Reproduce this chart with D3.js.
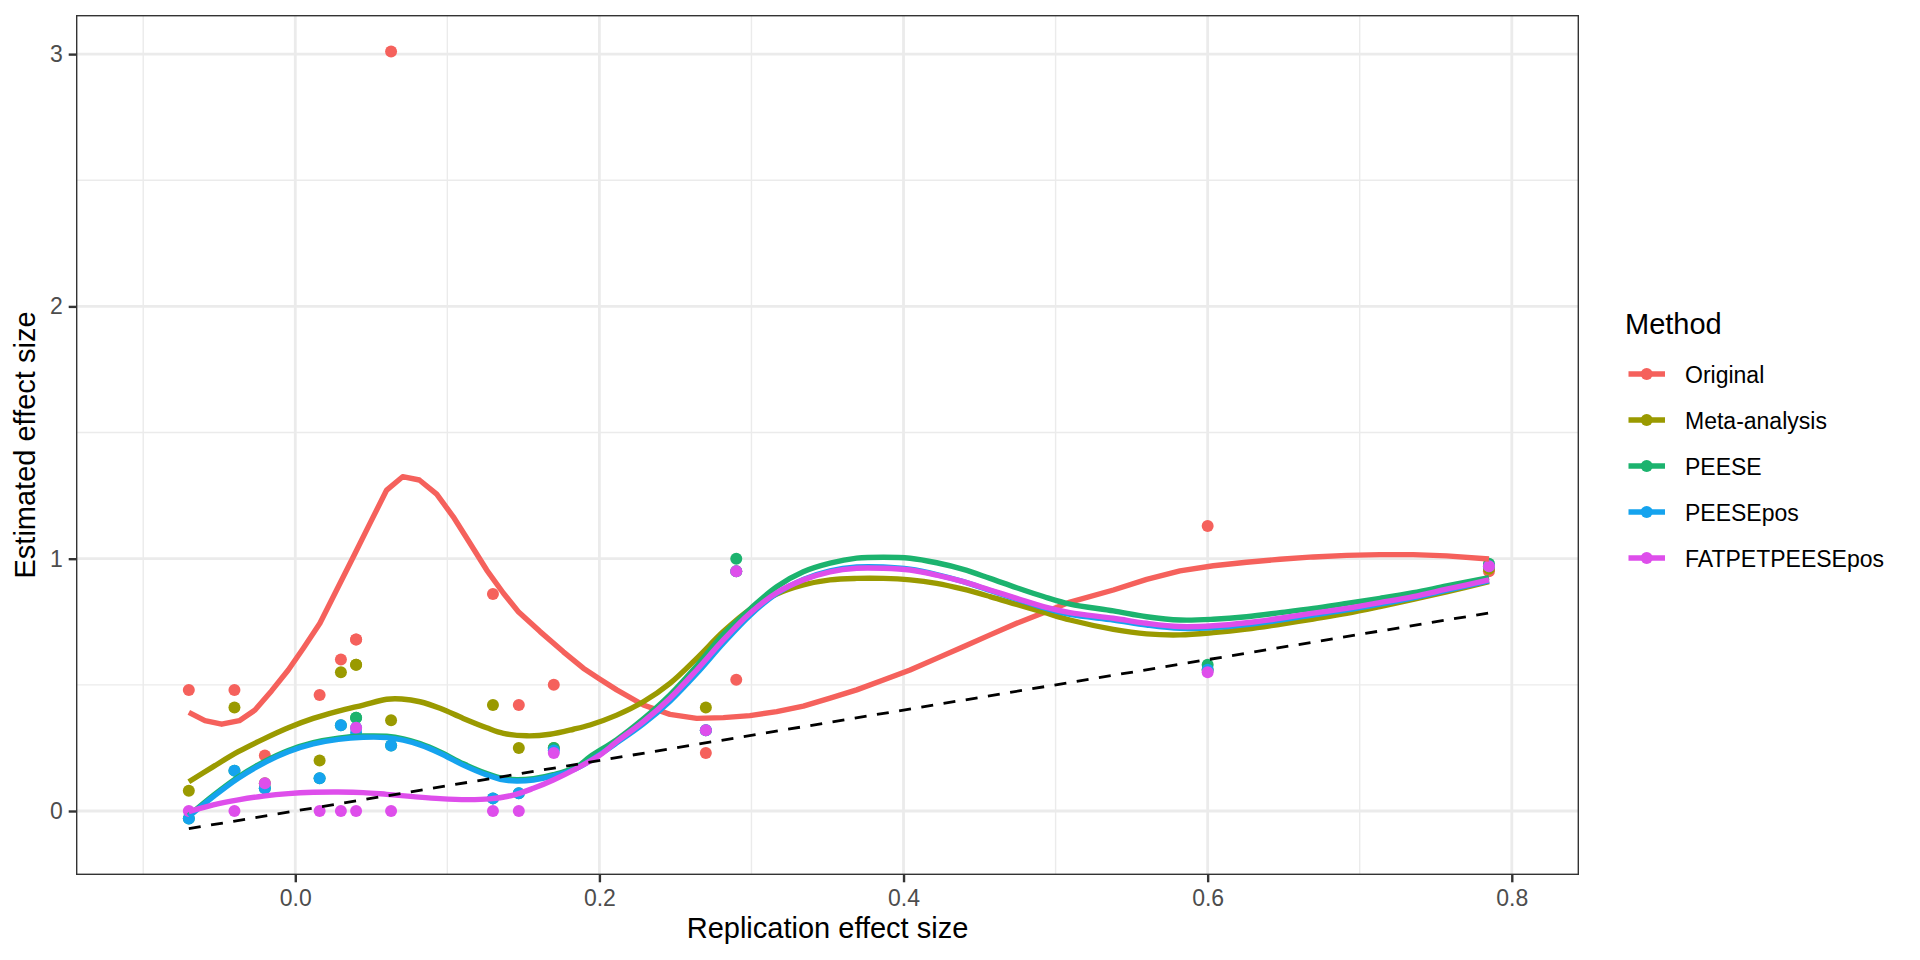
<!DOCTYPE html>
<html>
<head>
<meta charset="utf-8">
<script src="https://cdn.jsdelivr.net/npm/d3@7"></script>
<style>
  html, body { margin: 0; padding: 0; background: #ffffff; }
  svg { display: block; font-family: "Liberation Sans", Arial, Helvetica, sans-serif; }
</style>
</head>
<body>
<svg id="chart" width="1920" height="960"></svg>
<script>
// ---------------- data ----------------
const methods = ["Original", "Meta-analysis", "PEESE", "PEESEpos", "FATPETPEESEpos"];
const methodColors = ["#F5615C", "#9A9A00", "#1CB36E", "#15A3EE", "#DE4EEB"];

const replication = [-0.07, -0.04, -0.02, 0.016, 0.03, 0.04, 0.04, 0.063, 0.13, 0.147, 0.17, 0.27, 0.29, 0.6, 0.785];

const originalY = [0.48, 0.48, 0.22, 0.46, 0.60, 0.68, 0.68, 3.01, 0.86, 0.42, 0.50, 0.23, 0.52, 1.13, 0.95];
const metaY     = [0.08, 0.41, 0.11, 0.20, 0.55, 0.58, 0.58, 0.36, 0.42, 0.25, 0.25, 0.41, 0.95, 0.56, 0.96];
const peeseY    = [-0.03, 0.16, 0.09, 0.13, 0.34, 0.37, 0.37, 0.26, 0.05, 0.07, 0.25, 0.32, 1.00, 0.58, 0.98];
const peeseposY = [-0.03, 0.16, 0.09, 0.13, 0.34, 0.33, 0.31, 0.26, 0.05, 0.07, 0.24, 0.32, 0.95, 0.56, 0.97];
const fatY      = [0.00, 0.00, 0.11, 0.00, 0.00, 0.33, 0.00, 0.00, 0.00, 0.00, 0.23, 0.32, 0.95, 0.55, 0.97];

// smoothed (loess) curves: [x, y]
const originalSmooth = [[-0.07,0.391],[-0.0594,0.358],[-0.0484,0.344],[-0.0368,0.358],[-0.0265,0.400],[-0.0155,0.477],[-0.0046,0.559],[0.0053,0.645],[0.0162,0.744],[0.0272,0.876],[0.0382,1.008],[0.0491,1.140],[0.0601,1.272],[0.0706,1.325],[0.0816,1.312],[0.093,1.256],[0.1039,1.166],[0.1149,1.061],[0.1259,0.955],[0.1369,0.863],[0.1467,0.790],[0.161,0.711],[0.1763,0.631],[0.1894,0.566],[0.2004,0.522],[0.2114,0.480],[0.2289,0.420],[0.2464,0.383],[0.264,0.367],[0.2815,0.370],[0.299,0.378],[0.3166,0.394],[0.3341,0.416],[0.3517,0.447],[0.3692,0.480],[0.3867,0.519],[0.4043,0.559],[0.4218,0.605],[0.4393,0.651],[0.4569,0.698],[0.4744,0.744],[0.492,0.786],[0.5095,0.828],[0.538,0.876],[0.5599,0.918],[0.5818,0.952],[0.6037,0.972],[0.6256,0.986],[0.6476,0.998],[0.6695,1.007],[0.6914,1.013],[0.7133,1.016],[0.7352,1.016],[0.7571,1.011],[0.785,0.999]];
const metaSmooth = [[-0.07,0.116],[-0.0539,0.176],[-0.0375,0.235],[-0.021,0.285],[-0.0046,0.330],[0.0118,0.367],[0.0283,0.396],[0.0447,0.420],[0.0601,0.443],[0.070,0.444],[0.082,0.433],[0.0952,0.407],[0.1105,0.367],[0.1259,0.330],[0.1369,0.308],[0.1522,0.298],[0.1675,0.304],[0.183,0.324],[0.1938,0.341],[0.2114,0.380],[0.2289,0.433],[0.2464,0.506],[0.264,0.605],[0.2815,0.711],[0.299,0.799],[0.3166,0.860],[0.3341,0.896],[0.3517,0.916],[0.3692,0.922],[0.3867,0.922],[0.4043,0.916],[0.4218,0.902],[0.4393,0.879],[0.4569,0.850],[0.4744,0.819],[0.492,0.788],[0.5095,0.757],[0.538,0.720],[0.5599,0.702],[0.5818,0.698],[0.6037,0.707],[0.6256,0.721],[0.6476,0.740],[0.6695,0.761],[0.6914,0.783],[0.7133,0.810],[0.7352,0.839],[0.7571,0.869],[0.785,0.909]];
const peeseSmooth = [[-0.07,-0.018],[-0.0539,0.062],[-0.0375,0.135],[-0.021,0.194],[-0.0046,0.240],[0.0118,0.271],[0.0283,0.289],[0.0447,0.297],[0.0601,0.296],[0.0711,0.286],[0.082,0.267],[0.0952,0.234],[0.1105,0.187],[0.1259,0.148],[0.1369,0.128],[0.1456,0.124],[0.1566,0.128],[0.1697,0.144],[0.1851,0.175],[0.1938,0.215],[0.2114,0.283],[0.2289,0.365],[0.2464,0.460],[0.264,0.575],[0.2815,0.700],[0.299,0.800],[0.3166,0.889],[0.3341,0.948],[0.3517,0.982],[0.3692,1.002],[0.3867,1.006],[0.4043,1.002],[0.4218,0.984],[0.4393,0.958],[0.4569,0.922],[0.4744,0.885],[0.492,0.850],[0.5095,0.820],[0.538,0.793],[0.5599,0.770],[0.5818,0.757],[0.6037,0.760],[0.6256,0.770],[0.6476,0.786],[0.6695,0.803],[0.6914,0.823],[0.7133,0.843],[0.7352,0.865],[0.7571,0.892],[0.785,0.925]];
const peeseposSmooth = [[-0.07,-0.022],[-0.0539,0.057],[-0.0375,0.130],[-0.021,0.189],[-0.0046,0.235],[0.0118,0.266],[0.0283,0.284],[0.0447,0.292],[0.0601,0.291],[0.0711,0.281],[0.082,0.262],[0.0952,0.229],[0.1105,0.182],[0.1259,0.143],[0.1369,0.123],[0.1456,0.119],[0.1566,0.123],[0.1697,0.139],[0.1851,0.169],[0.2004,0.225],[0.2114,0.270],[0.2289,0.345],[0.2464,0.435],[0.264,0.545],[0.2815,0.665],[0.299,0.775],[0.3166,0.862],[0.3341,0.918],[0.3517,0.952],[0.3692,0.967],[0.3867,0.967],[0.4043,0.958],[0.4218,0.937],[0.4393,0.909],[0.4569,0.874],[0.4744,0.840],[0.492,0.806],[0.5095,0.779],[0.538,0.757],[0.5599,0.737],[0.5818,0.724],[0.6037,0.727],[0.6256,0.739],[0.6476,0.757],[0.6695,0.777],[0.6914,0.797],[0.7133,0.820],[0.7352,0.845],[0.7571,0.874],[0.785,0.912]];
const fatSmooth = [[-0.07,-0.003],[-0.0539,0.024],[-0.0375,0.044],[-0.021,0.059],[-0.0046,0.069],[0.0118,0.074],[0.0283,0.075],[0.0447,0.073],[0.0601,0.066],[0.0776,0.057],[0.0952,0.049],[0.1127,0.045],[0.128,0.048],[0.1434,0.063],[0.1566,0.090],[0.1697,0.123],[0.1851,0.169],[0.2004,0.222],[0.2114,0.275],[0.2289,0.354],[0.2464,0.447],[0.264,0.559],[0.2815,0.678],[0.299,0.784],[0.3166,0.865],[0.3341,0.916],[0.3517,0.948],[0.3692,0.962],[0.3867,0.962],[0.4043,0.955],[0.4218,0.935],[0.4393,0.909],[0.4569,0.876],[0.4744,0.843],[0.492,0.810],[0.5095,0.786],[0.538,0.764],[0.5599,0.744],[0.5818,0.731],[0.6037,0.734],[0.6256,0.746],[0.6476,0.764],[0.6695,0.784],[0.6914,0.803],[0.7133,0.826],[0.7352,0.850],[0.7571,0.879],[0.785,0.916]];

const identityRange = [-0.07, 0.785];   // dashed y = x reference line

const xTicks = [0.0, 0.2, 0.4, 0.6, 0.8];
const xMinor = [-0.1, 0.1, 0.3, 0.5, 0.7];
const yTicks = [0, 1, 2, 3];
const yMinor = [0.5, 1.5, 2.5];

const xTitle = "Replication effect size";
const yTitle = "Estimated effect size";
const legendTitle = "Method";

// ---------------- layout ----------------
const pLeft = 76, pRight = 1579, pTop = 15, pBottom = 875;
const x = d3.scaleLinear().domain([-0.1442, 0.8442]).range([pLeft, pRight]);
const y = d3.scaleLinear().domain([-0.2537, 3.155]).range([pBottom, pTop]);

const svg = d3.select("#chart");
svg.append("rect").attr("width", 1920).attr("height", 960).attr("fill", "#ffffff");

const panel = svg.append("g");
// grid
panel.selectAll(".xminor").data(xMinor).join("line")
  .attr("x1", d => x(d)).attr("x2", d => x(d)).attr("y1", pTop).attr("y2", pBottom)
  .attr("stroke", "#EBEBEB").attr("stroke-width", 1.4);
panel.selectAll(".yminor").data(yMinor).join("line")
  .attr("y1", d => y(d)).attr("y2", d => y(d)).attr("x1", pLeft).attr("x2", pRight)
  .attr("stroke", "#EBEBEB").attr("stroke-width", 1.4);
panel.selectAll(".xmajor").data(xTicks).join("line")
  .attr("x1", d => x(d)).attr("x2", d => x(d)).attr("y1", pTop).attr("y2", pBottom)
  .attr("stroke", "#EBEBEB").attr("stroke-width", 2.8);
panel.selectAll(".ymajor").data(yTicks).join("line")
  .attr("y1", d => y(d)).attr("y2", d => y(d)).attr("x1", pLeft).attr("x2", pRight)
  .attr("stroke", "#EBEBEB").attr("stroke-width", 2.8);

// points
const pointSeries = [originalY, metaY, peeseY, peeseposY, fatY];
const pts = [];
replication.forEach((rx, i) => {
  pointSeries.forEach((s, m) => pts.push({x: rx, y: s[i], m}));
});
pts.sort((a, b) => a.m - b.m);
panel.selectAll(".pt").data(pts).join("circle")
  .attr("cx", d => x(d.x)).attr("cy", d => y(d.y)).attr("r", 6)
  .attr("fill", d => methodColors[d.m]);

// smooth lines (Original drawn as a polyline like the reference's evaluated loess)
const smooths = [originalSmooth, metaSmooth, peeseSmooth, peeseposSmooth, fatSmooth];
const lineSmooth = d3.line().x(d => x(d[0])).y(d => y(d[1])).curve(d3.curveCatmullRom.alpha(0.5));
const linePoly = d3.line().x(d => x(d[0])).y(d => y(d[1])).curve(d3.curveLinear);
smooths.forEach((s, m) => {
  panel.append("path").attr("d", (m === 0 ? linePoly : lineSmooth)(s)).attr("fill", "none")
    .attr("stroke", methodColors[m]).attr("stroke-width", 5.4)
    .attr("stroke-linejoin", "round");
});

// dashed identity line
panel.append("line")
  .attr("x1", x(identityRange[0])).attr("y1", y(identityRange[0]))
  .attr("x2", x(identityRange[1])).attr("y2", y(identityRange[1]))
  .attr("stroke", "#000000").attr("stroke-width", 2.8).attr("stroke-dasharray", "12,10.5");

// panel border
svg.append("rect").attr("x", pLeft + 0.7).attr("y", pTop + 0.7)
  .attr("width", pRight - pLeft - 1.4).attr("height", pBottom - pTop - 1.4)
  .attr("fill", "none").attr("stroke", "#333333").attr("stroke-width", 1.4);

// axes
const xAxis = svg.append("g").attr("transform", `translate(0,${pBottom})`)
  .call(d3.axisBottom(x).tickValues(xTicks).tickFormat(d3.format(".1f")).tickSize(7.3).tickPadding(7));
const yAxis = svg.append("g").attr("transform", `translate(${pLeft},0)`)
  .call(d3.axisLeft(y).tickValues(yTicks).tickFormat(d3.format("d")).tickSize(7.3).tickPadding(6));
[xAxis, yAxis].forEach(g => {
  g.select(".domain").remove();
  g.selectAll(".tick line").attr("stroke", "#333333").attr("stroke-width", 2.4);
  g.selectAll(".tick text").attr("fill", "#4D4D4D").attr("font-size", 23)
    .attr("font-family", '"Liberation Sans", Arial, sans-serif');
});

// axis titles
svg.append("text").attr("x", (pLeft + pRight) / 2).attr("y", 938)
  .attr("text-anchor", "middle").attr("font-size", 29).attr("fill", "#000").text(xTitle);
svg.append("text").attr("transform", `translate(35,${(pTop + pBottom) / 2}) rotate(-90)`)
  .attr("text-anchor", "middle").attr("font-size", 29).attr("fill", "#000").text(yTitle);

// legend
const legend = svg.append("g");
legend.append("text").attr("x", 1625).attr("y", 334).attr("font-size", 29).attr("fill", "#000").text(legendTitle);
const rowY = m => 374 + m * 46;
methods.forEach((name, m) => {
  legend.append("line").attr("x1", 1628.5).attr("x2", 1665).attr("y1", rowY(m)).attr("y2", rowY(m))
    .attr("stroke", methodColors[m]).attr("stroke-width", 5.4);
  legend.append("circle").attr("cx", 1646.7).attr("cy", rowY(m)).attr("r", 6).attr("fill", methodColors[m]);
  legend.append("text").attr("x", 1685).attr("y", rowY(m) + 8.5).attr("font-size", 23).attr("fill", "#000").text(name);
});
</script>
</body>
</html>
